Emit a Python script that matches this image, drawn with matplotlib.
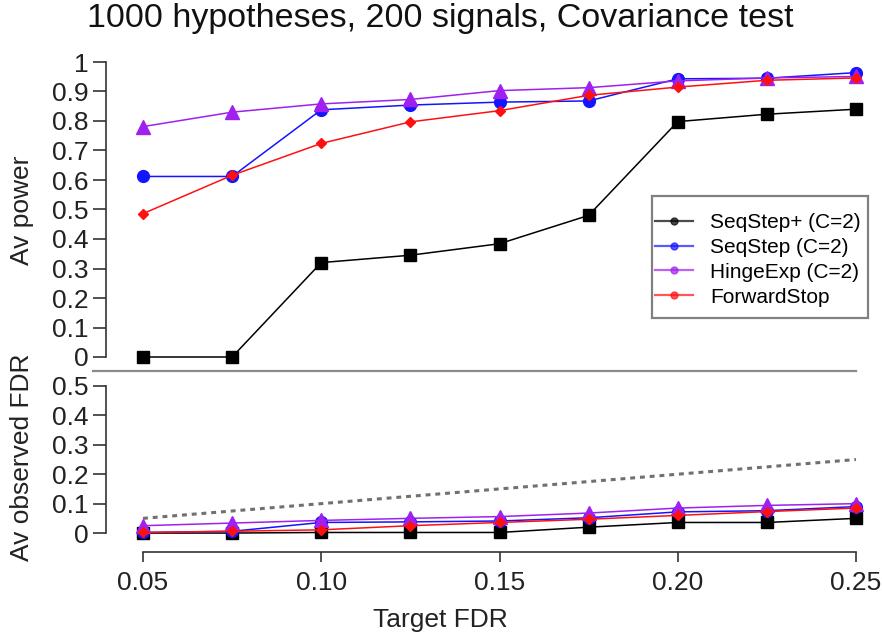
import matplotlib
matplotlib.use("Agg")
import matplotlib.pyplot as plt
from matplotlib.lines import Line2D
from matplotlib.patches import Rectangle

plt.rcParams['font.family'] = ['Liberation Sans', 'DejaVu Sans']

# data
target_fdr = [0.05, 0.075, 0.10, 0.125, 0.15, 0.175, 0.20, 0.225, 0.25]

power_seqstep_plus = [0.0, 0.0, 0.32, 0.345, 0.384, 0.48, 0.798, 0.823, 0.84]
power_seqstep = [0.612, 0.612, 0.838, 0.854, 0.864, 0.868, 0.943, 0.945, 0.964]
power_hingeexp = [0.781, 0.83, 0.858, 0.873, 0.903, 0.913, 0.936, 0.946, 0.951]
power_forwardstop = [0.486, 0.616, 0.724, 0.797, 0.835, 0.887, 0.915, 0.938, 0.946]

fdr_seqstep_plus = [0.0, 0.0, 0.002, 0.002, 0.002, 0.02, 0.036, 0.036, 0.05]
fdr_seqstep = [0.002, 0.006, 0.036, 0.038, 0.041, 0.052, 0.072, 0.076, 0.09]
fdr_hingeexp = [0.025, 0.034, 0.043, 0.05, 0.056, 0.068, 0.085, 0.094, 0.10]
fdr_forwardstop = [0.002, 0.006, 0.011, 0.025, 0.036, 0.047, 0.06, 0.073, 0.085]

labels = ["SeqStep+ (C=2)", "SeqStep (C=2)", "HingeExp (C=2)", "ForwardStop"]
colors = ["black", "#1414ff", "#a020f0", "#ff1010"]
markers = ["s", "o", "^", "D"]
msizes = [8, 8.5, 9.5, 5.5]

W, H = 882, 637
fig = plt.figure(figsize=(W / 100, H / 100), dpi=100)

def fx(px):
    return px / W

def fy(py):
    return 1 - py / H

# top panel: power
ax1 = fig.add_axes([fx(106), fy(371), fx(870) - fx(106), fy(50) - fy(371)])
# bottom panel: observed FDR
ax2 = fig.add_axes([fx(106), fy(552), fx(870) - fx(106), fy(380) - fy(552)])

xlim = (0.05 - 37 / 3565, 0.25 + 14 / 3565)
ax1.set_xlim(*xlim)
ax2.set_xlim(*xlim)
ax1.set_ylim(-14 / 295, 1 + 12 / 295)
ax2.set_ylim(-19 / 295, 0.5 + 6 / 295)

power = [power_seqstep_plus, power_seqstep, power_hingeexp, power_forwardstop]
fdr = [fdr_seqstep_plus, fdr_seqstep, fdr_hingeexp, fdr_forwardstop]

ax2.plot(target_fdr, target_fdr, color="#707070", lw=2.2, linestyle=(0, (1.6, 1.6)))

for vals, c, m, ms in zip(power, colors, markers, msizes):
    ax1.plot(target_fdr, vals, color=c, lw=1.1, marker=m, markersize=ms, clip_on=False)
for vals, c, m, ms in zip(fdr, colors, markers, msizes):
    ax2.plot(target_fdr, vals, color=c, lw=1.1, marker=m, markersize=ms, clip_on=False)

for ax in (ax1, ax2):
    for s in ("top", "right"):
        ax.spines[s].set_visible(False)
    ax.spines["left"].set_color("#333333")
    ax.spines["left"].set_linewidth(1.2)
    ax.tick_params(axis="y", length=9.4, width=1.2, color="#333333", pad=3,
                   labelsize=19, labelcolor="#222222")

ax1.spines["bottom"].set_visible(False)
ax1.spines["left"].set_bounds(0, 1)
ax1.set_xticks([])
ax1.set_yticks([i / 10 for i in range(11)])
ax1.set_yticklabels(["0"] + ["0.%d" % i for i in range(1, 10)] + ["1"])

ax2.spines["left"].set_bounds(0, 0.5)
ax2.spines["bottom"].set_bounds(0.05, 0.25)
ax2.spines["bottom"].set_color("#333333")
ax2.spines["bottom"].set_linewidth(1.2)
ax2.set_yticks([i / 10 for i in range(6)])
ax2.set_yticklabels(["0"] + ["0.%d" % i for i in range(1, 6)])
ax2.set_xticks([0.05, 0.10, 0.15, 0.20, 0.25])
ax2.set_xticklabels(["0.05", "0.10", "0.15", "0.20", "0.25"])
ax2.tick_params(axis="x", length=7.4, width=1.2, color="#333333", pad=6,
                labelsize=19, labelcolor="#222222")

# separator between the two panels
fig.add_artist(Line2D([fx(93), fx(856)], [fy(371), fy(371)], color="#8a8a8a", lw=1.6))

fig.text(fx(440), fy(19), "1000 hypotheses, 200 signals, Covariance test",
         ha="center", va="center", fontsize=24.5, color="#111111")
fig.text(fx(22), fy(210), "Av power", rotation=90, ha="center", va="center",
         fontsize=19, color="#222222")
fig.text(fx(22), fy(457), "Av observed FDR", rotation=90, ha="center", va="center",
         fontsize=19, color="#222222")
fig.text(fx(440), fy(620), "Target FDR", ha="center", va="center",
         fontsize=19, color="#222222")

# legend
handles = [Line2D([], [], color=c, lw=1.6, alpha=0.7, marker="o", markersize=5,
                  markerfacecolor=c, markeredgecolor=c) for c in colors]
fig.add_artist(Rectangle((fx(652), fy(318)), fx(868) - fx(652), fy(196) - fy(318),
                         transform=fig.transFigure, fill=False,
                         edgecolor="#808080", lw=1.6))
fig.legend(handles, labels, loc="upper left", bbox_to_anchor=(fx(655), fy(213)),
           frameon=False, fontsize=15, borderpad=0, borderaxespad=0,
           handlelength=1.8, handletextpad=0.85, labelspacing=0.28)

fig.savefig("out.png", dpi=100)
